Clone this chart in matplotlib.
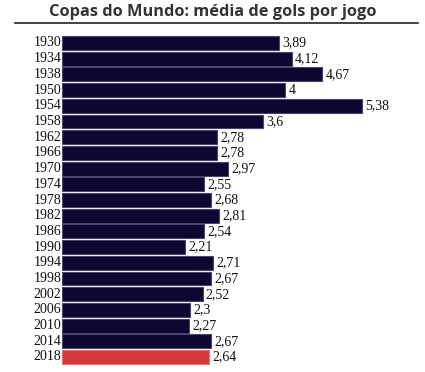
import matplotlib.pyplot as plt
from matplotlib.lines import Line2D

anos = ["1930", "1934", "1938", "1950", "1954", "1958", "1962", "1966", "1970", "1974", "1978",
        "1982", "1986", "1990", "1994", "1998", "2002", "2006", "2010", "2014", "2018"]
media = [3.89, 4.12, 4.67, 4, 5.38, 3.6, 2.78, 2.78, 2.97, 2.55, 2.68,
         2.81, 2.54, 2.21, 2.71, 2.67, 2.52, 2.3, 2.27, 2.67, 2.64]
rotulos = ["3,89", "4,12", "4,67", "4", "5,38", "3,6", "2,78", "2,78", "2,97", "2,55", "2,68",
           "2,81", "2,54", "2,21", "2,71", "2,67", "2,52", "2,3", "2,27", "2,67", "2,64"]

W, H = 425, 372
fig = plt.figure(figsize=(W / 100, H / 100), dpi=100)

# eixo: barras comecam em x=62px, 1954 (5,38) termina em ~362px
x0 = 62
px_por_gol = (362 - x0) / 5.38
n = len(anos)
passo = (357 - 43) / (n - 1)
topo, base = 43 - passo / 2, 357 + passo / 2
ax = fig.add_axes([x0 / W, (H - base) / H, (W - x0) / W, (base - topo) / H])
ax.set_xlim(0, (W - x0) / px_por_gol)
ax.set_ylim(n - 0.5, -0.5)
ax.axis("off")

cores = ["#0c0632"] * (n - 1) + ["#d63a3a"]
bordas = ["#4a4570"] * (n - 1) + ["#e87070"]
ax.barh(range(n), media, height=0.88, color=cores, edgecolor=bordas, linewidth=0.8)

for i in range(n):
    ax.text(-0.01, i, anos[i], ha="right", va="center", fontsize=10,
            family="Liberation Serif", color="#111111")
    ax.text(media[i] + 0.06, i, rotulos[i], ha="left", va="center", fontsize=10,
            family="Liberation Serif", color="#111111")

fig.text(0.5, 1 - 12 / H, "Copas do Mundo: média de gols por jogo", ha="center", va="center",
         fontsize=11.8, fontweight="bold", family="Open Sans", color="#333333")
fig.add_artist(Line2D([15 / W, 418 / W], [1 - 22.5 / H, 1 - 22.5 / H], color="#222222", lw=1.2))

fig.savefig("out.png", dpi=100)
